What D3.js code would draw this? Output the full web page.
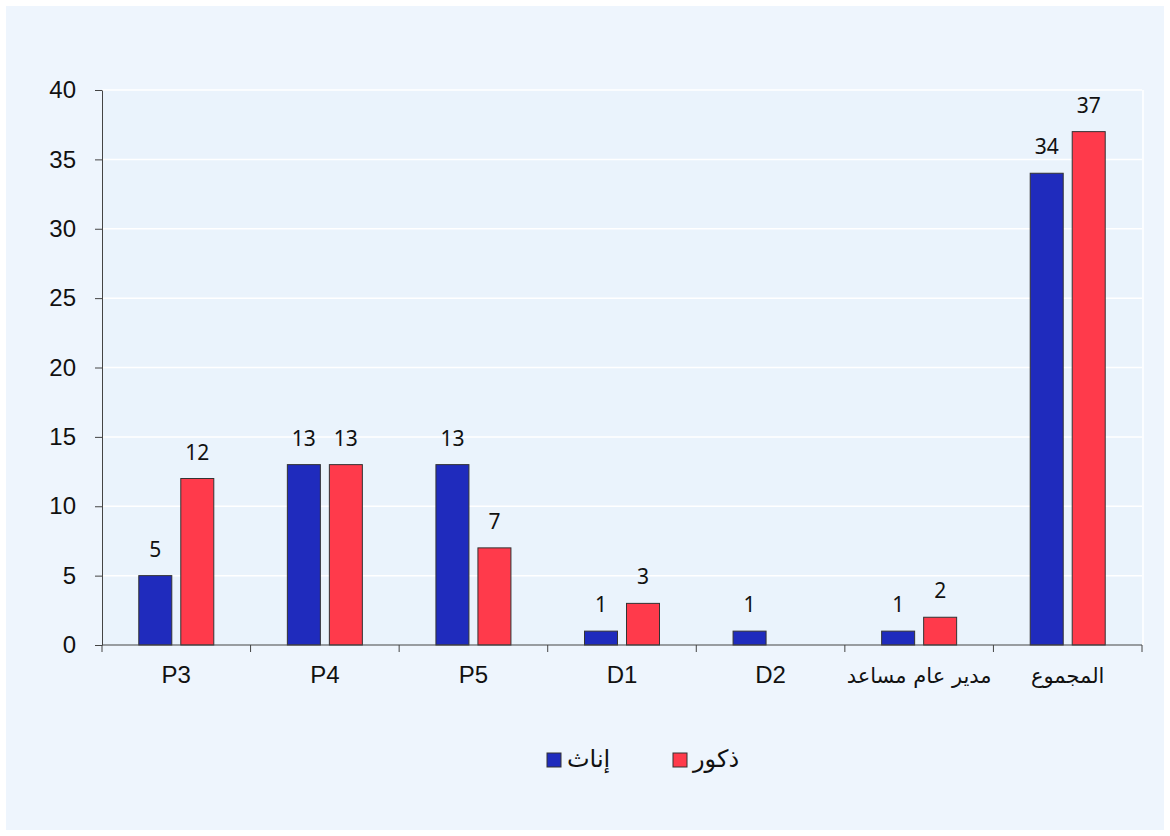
<!DOCTYPE html>
<html>
<head>
<meta charset="utf-8">
<script src="https://cdn.jsdelivr.net/npm/d3@7"></script>
<style>
  body { margin: 0; background: #ffffff; }
  svg { display: block; }
</style>
</head>
<body>
<svg id="chart" width="1170" height="836"></svg>
<script>
// categories and values
var categories = ["P3", "P4", "P5", "D1", "D2", "مدير عام مساعد", "المجموع"];
var females = [5, 13, 13, 1, 1, 1, 34];
var males = [12, 13, 7, 3, null, 2, 37];
var seriesNames = ["إناث", "ذكور"];
var yTicks = [0, 5, 10, 15, 20, 25, 30, 35, 40];

var colors = ["#1f2bbd", "#ff3a4b"];
var latinFont = "'Liberation Sans', Arial, sans-serif";
var arabicFont = "'DejaVu Sans', sans-serif";

var svg = d3.select("#chart"),
    width = +svg.attr("width"),
    height = +svg.attr("height");

var margin = {left: 102, right: 28, top: 90, bottom: 191};

// outer background
svg.append("rect")
    .attr("x", 6).attr("y", 6)
    .attr("width", width - 12).attr("height", height - 12)
    .attr("fill", "#eef5fd");

var x = d3.scaleBand()
    .domain(categories)
    .range([margin.left, width - margin.right]);

var y = d3.scaleLinear()
    .domain([0, 40])
    .range([height - margin.bottom, margin.top]);

// plot area
svg.append("rect")
    .attr("x", margin.left).attr("y", margin.top)
    .attr("width", width - margin.left - margin.right)
    .attr("height", height - margin.top - margin.bottom)
    .attr("fill", "#eaf3fc");

// grid lines
svg.append("g").selectAll("line")
    .data(yTicks.filter(function(d) { return d > 0; }))
    .enter().append("line")
    .attr("x1", margin.left).attr("x2", width - margin.right)
    .attr("y1", function(d) { return y(d); })
    .attr("y2", function(d) { return y(d); })
    .attr("stroke", "#ffffff")
    .attr("stroke-width", 1.5);

// right border of plot
svg.append("line")
    .attr("x1", width - margin.right + 1).attr("x2", width - margin.right + 1)
    .attr("y1", margin.top).attr("y2", y(0))
    .attr("stroke", "#ffffff")
    .attr("stroke-width", 1.5);

var barW = 33, gap = 9;
var data = categories.map(function(c, i) {
  return {cat: c, vals: [females[i], males[i]]};
});

var groups = svg.append("g").selectAll("g")
    .data(data)
    .enter().append("g")
    .attr("transform", function(d) {
      return "translate(" + (x(d.cat) + x.bandwidth() / 2 - barW - gap / 2) + ",0)";
    });

groups.selectAll("rect")
    .data(function(d) { return d.vals.map(function(v, k) { return {v: v, k: k}; }); })
    .enter().filter(function(d) { return d.v != null; })
    .append("rect")
    .attr("x", function(d) { return d.k * (barW + gap); })
    .attr("y", function(d) { return y(d.v); })
    .attr("width", barW)
    .attr("height", function(d) { return y(0) - y(d.v); })
    .attr("fill", function(d) { return colors[d.k]; })
    .attr("stroke", "#333333")
    .attr("stroke-width", 1);

groups.selectAll("text")
    .data(function(d) { return d.vals.map(function(v, k) { return {v: v, k: k}; }); })
    .enter().filter(function(d) { return d.v != null; })
    .append("text")
    .attr("x", function(d) { return d.k * (barW + gap) + barW / 2; })
    .attr("y", function(d) { return y(d.v) - 19; })
    .attr("text-anchor", "middle")
    .attr("font-family", "'Noto Sans', sans-serif")
    .attr("font-size", 21)
    .attr("fill", "#111")
    .text(function(d) { return d.v; });

// y axis
var yAxis = svg.append("g")
    .attr("transform", "translate(" + margin.left + ",0)")
    .call(d3.axisLeft(y).tickValues(yTicks).tickSize(7).tickPadding(19).tickSizeOuter(0));
yAxis.selectAll("text")
    .attr("font-family", latinFont)
    .attr("font-size", 24)
    .attr("fill", "#111");
yAxis.selectAll("line, path").attr("stroke", "#444");

// x axis with ticks at category boundaries
var xAxisG = svg.append("g")
    .attr("transform", "translate(0," + y(0) + ")");
xAxisG.append("line")
    .attr("x1", margin.left).attr("x2", width - margin.right)
    .attr("stroke", "#444");
xAxisG.selectAll(".tk")
    .data(categories.concat(["end"]))
    .enter().append("line")
    .attr("x1", function(d, i) { return margin.left + i * x.bandwidth(); })
    .attr("x2", function(d, i) { return margin.left + i * x.bandwidth(); })
    .attr("y1", 0).attr("y2", 7)
    .attr("stroke", "#444");
xAxisG.selectAll("text")
    .data(categories)
    .enter().append("text")
    .attr("x", function(d) { return x(d) + x.bandwidth() / 2; })
    .attr("y", 38)
    .attr("text-anchor", "middle")
    .attr("font-family", function(d, i) { return i < 5 ? latinFont : arabicFont; })
    .attr("font-size", function(d, i) { return i < 5 ? 24 : 21; })
    .attr("fill", "#111")
    .text(function(d) { return d; });

// legend
var legendX = [547, 673];
var legend = svg.append("g").selectAll("g")
    .data(seriesNames)
    .enter().append("g")
    .attr("transform", function(d, i) { return "translate(" + legendX[i] + ",753)"; });
legend.append("rect")
    .attr("width", 14).attr("height", 14)
    .attr("fill", function(d, i) { return colors[i]; })
    .attr("stroke", "#333");
legend.append("text")
    .attr("x", 20).attr("y", 14)
    .attr("text-anchor", "start")
    .attr("font-family", arabicFont)
    .attr("font-size", 24)
    .attr("fill", "#111")
    .text(function(d) { return d; });
</script>
</body>
</html>
